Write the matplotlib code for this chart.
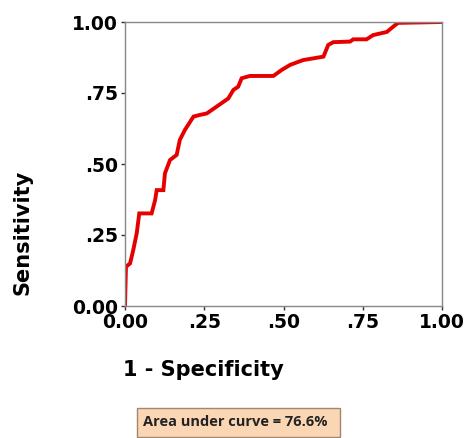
import matplotlib.pyplot as plt
from matplotlib.patches import Rectangle

# ROC curve points
fpr = [0.0, 0.003, 0.016, 0.026, 0.037, 0.045, 0.058, 0.084, 0.095, 0.100,
       0.121, 0.126, 0.142, 0.163, 0.173, 0.189, 0.216, 0.237, 0.258, 0.289,
       0.326, 0.342, 0.357, 0.368, 0.394, 0.468, 0.494, 0.521, 0.562, 0.594,
       0.626, 0.641, 0.657, 0.710, 0.720, 0.762, 0.783, 0.826, 0.852, 0.862,
       1.0]
tpr = [0.0, 0.138, 0.150, 0.197, 0.256, 0.326, 0.326, 0.326, 0.373, 0.408,
       0.408, 0.467, 0.514, 0.532, 0.585, 0.620, 0.667, 0.673, 0.678, 0.702,
       0.731, 0.761, 0.772, 0.802, 0.810, 0.810, 0.831, 0.849, 0.866, 0.872,
       0.878, 0.919, 0.929, 0.931, 0.939, 0.939, 0.954, 0.965, 0.989, 0.997,
       1.0]

ticks = [0.0, 0.25, 0.5, 0.75, 1.0]
tick_labels = ["0.00", ".25", ".50", ".75", "1.00"]
auc_text = "Area under curve = 76.6%"

W, H = 472, 438
fig = plt.figure(figsize=(W / 100, H / 100), dpi=100)
ax = fig.add_axes([125 / W, (H - 306) / H, 317 / W, 284 / H])

ax.plot(fpr, tpr, color="#e60000", linewidth=2.8, solid_joinstyle="miter")

ax.set_xlim(0, 1)
ax.set_ylim(0, 1)
ax.set_xticks(ticks)
ax.set_yticks(ticks)
bold = dict(family="DejaVu Sans", weight="bold", size=13.5)
ax.set_xticklabels(tick_labels, **bold)
ax.set_yticklabels(tick_labels, **bold)
ax.tick_params(direction="out", length=3, width=1, color="#333333", pad=2)

for s in ax.spines.values():
    s.set_color("#888888")
    s.set_linewidth(1.0)

# axis titles
title_font = dict(family="DejaVu Sans", weight="bold", size=15)
fig.text(22 / W, 1 - 232 / H, "Sensitivity", rotation=90, ha="center",
         va="center", **title_font)
fig.text(123 / W, 1 - 370 / H, "1 - Specificity", ha="left", va="center",
         **title_font)

# AUC box
box = Rectangle((137 / W, 1 - 437 / H), 203 / W, 29 / H,
                transform=fig.transFigure, facecolor="#fbd6b4",
                edgecolor="#a08870", linewidth=1.0)
fig.patches.append(box)
fig.text(143 / W, 1 - 422.5 / H, auc_text, ha="left", va="center",
         family="Open Sans", weight="bold", size=10.5, color="#222222")

fig.savefig("out.png", dpi=100)
